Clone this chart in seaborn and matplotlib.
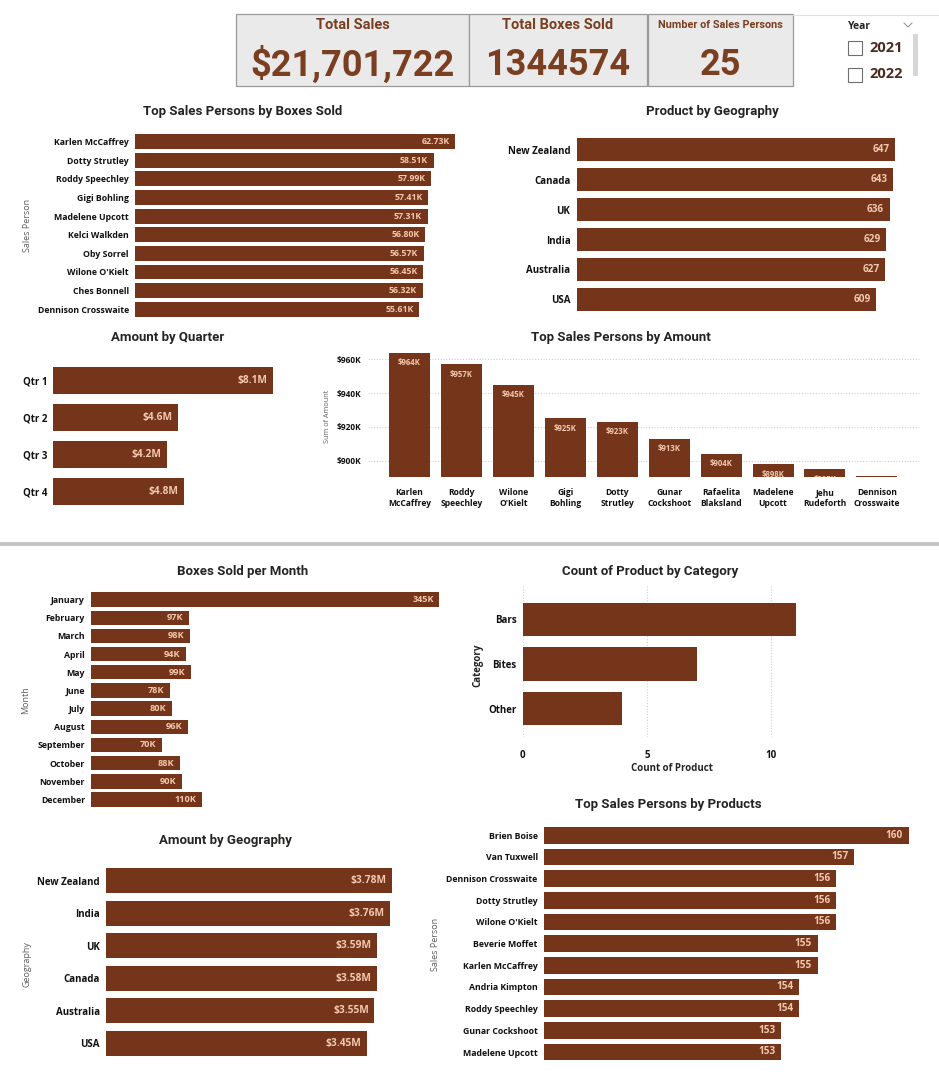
import matplotlib
matplotlib.use("Agg")
import matplotlib.pyplot as plt
import seaborn as sns
import pandas as pd
from matplotlib.patches import Rectangle
from matplotlib.lines import Line2D

# ---------------- data ----------------
kpi_titles = ["Total Sales", "Total Boxes Sold", "Number of Sales Persons"]
kpi_values = ["$21,701,722", "1344574", "25"]
slicer_title = "Year"
years = ["2021", "2022"]

boxes_people = ["Karlen McCaffrey", "Dotty Strutley", "Roddy Speechley", "Gigi Bohling",
                "Madelene Upcott", "Kelci Walkden", "Oby Sorrel", "Wilone O'Kielt",
                "Ches Bonnell", "Dennison Crosswaite"]
boxes_values = [62730, 58510, 57990, 57410, 57310, 56800, 56570, 56450, 56320, 55610]

geo_names = ["New Zealand", "Canada", "UK", "India", "Australia", "USA"]
geo_product_counts = [647, 643, 636, 629, 627, 609]

quarters = ["Qtr 1", "Qtr 2", "Qtr 3", "Qtr 4"]
quarter_amounts = [8.1e6, 4.6e6, 4.2e6, 4.8e6]

amount_people = ["Karlen\nMcCaffrey", "Roddy\nSpeechley", "Wilone\nO'Kielt", "Gigi\nBohling",
                 "Dotty\nStrutley", "Gunar\nCockshoot", "Rafaelita\nBlaksland",
                 "Madelene\nUpcott", "Jehu\nRudeforth", "Dennison\nCrosswaite"]
amount_values = [964e3, 957e3, 945e3, 925e3, 923e3, 913e3, 904e3, 898e3, 895e3, 891e3]
amount_ticks = [900e3, 920e3, 940e3, 960e3]

months = ["January", "February", "March", "April", "May", "June", "July", "August",
          "September", "October", "November", "December"]
month_boxes = [345e3, 97e3, 98e3, 94e3, 99e3, 78e3, 80e3, 96e3, 70e3, 88e3, 90e3, 110e3]

categories = ["Bars", "Bites", "Other"]
category_counts = [11, 7, 4]
count_ticks = [0, 5, 10]

product_people = ["Brien Boise", "Van Tuxwell", "Dennison Crosswaite", "Dotty Strutley",
                  "Wilone O'Kielt", "Beverie Moffet", "Karlen McCaffrey", "Andria Kimpton",
                  "Roddy Speechley", "Gunar Cockshoot", "Madelene Upcott"]
product_counts = [160, 157, 156, 156, 156, 155, 155, 154, 154, 153, 153]

geo_amount_names = ["New Zealand", "India", "UK", "Canada", "Australia", "USA"]
geo_amounts = [3.78e6, 3.76e6, 3.59e6, 3.58e6, 3.55e6, 3.45e6]

# ---------------- style ----------------
sns.set_style("white")
plt.rcParams["font.family"] = ["Open Sans", "DejaVu Sans"]
TITLE_FONT = ["Roboto", "DejaVu Sans"]
BAR = "#74351B"
LBL = "#F3C8AE"
KPI_COLOR = "#7A3E20"
DARK = "#252423"
GRAY = "#605E5C"

W, H = 939, 1080
fig = plt.figure(figsize=(W / 100, H / 100), dpi=100, facecolor="white")


def fx(x):
    return x / W


def fy(y):
    return 1 - y / H


def px_axes(left, top, right, bottom):
    return fig.add_axes([left / W, 1 - bottom / H, (right - left) / W, (bottom - top) / H])


def title(x, y, text, size=9.5):
    fig.text(fx(x), fy(y + 1.5), text, ha="center", va="center", fontsize=size,
             fontweight="bold", color=DARK, family=TITLE_FONT)


def side_label(x, y, text, size=6.5, color=GRAY, weight="normal"):
    fig.text(fx(x), fy(y), text, ha="center", va="center", rotation=90,
             fontsize=size, color=color, fontweight=weight)


def clean(ax):
    for s in ax.spines.values():
        s.set_visible(False)
    ax.tick_params(length=0)
    ax.set_xlabel("")
    ax.set_ylabel("")


def hbar(names, values, left, right, c0, cn, x0, ppu, width, fmt, lab_fs, val_fs):
    n = len(names)
    s = (cn - c0) / (n - 1)
    ax = px_axes(left, c0 - s / 2, right, cn + s / 2)
    df = pd.DataFrame({"name": names, "value": values})
    sns.barplot(data=df, y="name", x="value", ax=ax, color=BAR, width=width,
                saturation=1, orient="h", linewidth=0)
    ax.set_xlim(x0, x0 + (right - left) / ppu)
    ax.set_ylim(n - 0.5, -0.5)
    clean(ax)
    ax.set_xticks([])
    ax.tick_params(axis="y", pad=4.5)
    for t in ax.get_yticklabels():
        t.set_fontweight("bold")
        t.set_fontsize(lab_fs)
        t.set_color("#111111")
    for i, v in enumerate(values):
        ax.annotate(fmt(v), (v, i), xytext=(-4, 0), textcoords="offset points",
                    ha="right", va="center", color=LBL, fontsize=val_fs,
                    fontweight="bold")
    return ax


# ---------------- KPI cards ----------------
cards = [(236, 469), (469, 647), (648, 793)]
title_sizes = [10.5, 10.5, 7.8]
for (l, r), t, v, ts in zip(cards, kpi_titles, kpi_values, title_sizes):
    fig.add_artist(Rectangle((fx(l), fy(86)), (r - l) / W, 72 / H, transform=fig.transFigure,
                             facecolor="#EAEAEA", edgecolor="#9A9A9A", linewidth=0.9))
    cx = (l + r) / 2
    fig.text(fx(cx), fy(25), t, ha="center", va="center", fontsize=ts,
             fontweight="bold", color=KPI_COLOR, family=TITLE_FONT)
    fig.text(fx(cx), fy(65), v, ha="center", va="center", fontsize=26,
             fontweight="bold", color=KPI_COLOR, family=TITLE_FONT)

# slicer
fig.add_artist(Line2D([fx(793), fx(939)], [fy(15), fy(15)], transform=fig.transFigure,
                      color="#E2E2E2", linewidth=0.8))
fig.text(fx(848), fy(26.5), slicer_title, ha="left", va="center", fontsize=7.5,
         fontweight="bold", color=DARK)
fig.add_artist(Line2D([fx(904), fx(908), fx(912)], [fy(23), fy(27), fy(23)],
                      transform=fig.transFigure, color="#8A8A8A", linewidth=0.7))
for k, yr in enumerate(years):
    yc = 48 + k * 26.5
    fig.add_artist(Rectangle((fx(848), fy(yc + 7)), 14 / W, 14 / H, transform=fig.transFigure,
                             facecolor="white", edgecolor="#6E6E6E", linewidth=0.8))
    fig.text(fx(869), fy(yc), yr, ha="left", va="center", fontsize=10.5,
             fontweight="bold", color="#4A2B1F")
fig.add_artist(Rectangle((fx(913), fy(76)), 5 / W, 42 / H, transform=fig.transFigure,
                         facecolor="#D6D6D6", edgecolor="none"))

# ---------------- Top Sales Persons by Boxes Sold ----------------
title(243, 110, "Top Sales Persons by Boxes Sold")
side_label(27, 225, "Sales Person")
hbar(boxes_people, boxes_values, 135, 470, 141.7, 309.2, 0, 320.3 / 62730, 0.8,
     lambda v: f"{v / 1000:.2f}K", 6.3, 6.3)

# ---------------- Product by Geography ----------------
title(712, 110, "Product by Geography")
hbar(geo_names, geo_product_counts, 576.7, 910, 149.5, 299.5, 0, 318.3 / 647, 0.77,
     lambda v: f"{v:.0f}", 7, 7.2)

# ---------------- Amount by Quarter ----------------
title(168, 336, "Amount by Quarter")
hbar(quarters, quarter_amounts, 53.3, 300, 380.3, 491.3, 0, 220 / 8.1e6, 0.74,
     lambda v: f"${v / 1e6:.1f}M", 7, 7.3)

# ---------------- Top Sales Persons by Amount ----------------
title(621, 336, "Top Sales Persons by Amount")
side_label(327.7, 416.7, "Sum of Amount", size=5.2)
ppk = (460.7 - 359.3) / 60.0
top_px, bot_px = 350.0, 477.3
ax = px_axes(368, top_px, 920, bot_px)
df = pd.DataFrame({"name": amount_people, "value": amount_values})
sns.barplot(data=df, x="name", y="value", ax=ax, color=BAR, width=0.79, saturation=1,
            linewidth=0)
ax.set_ylim((900 - (bot_px - 460.7) / ppk) * 1e3, (960 + (359.3 - top_px) / ppk) * 1e3)
ax.set_xlim(-0.8, 9.83)
clean(ax)
ax.set_yticks(amount_ticks)
ax.set_yticklabels([f"${v / 1000:.0f}K" for v in amount_ticks], fontsize=6,
                   fontweight="bold", color="#111111")
ax.tick_params(axis="y", pad=5)
ax.tick_params(axis="x", pad=8)
for t in ax.get_xticklabels():
    t.set_fontsize(6.1)
    t.set_fontweight("bold")
    t.set_color("#111111")
    t.set_linespacing(1.25)
ax.yaxis.grid(True, linestyle=(0, (1, 1.5)), color="#D0D0D0", linewidth=0.8)
ax.set_axisbelow(True)
for i, v in enumerate(amount_values):
    ax.annotate(f"${v / 1000:.0f}K", (i, v), xytext=(0, -4), textcoords="offset points",
                ha="center", va="top", color=LBL, fontsize=5.6, fontweight="bold",
                annotation_clip=True, clip_on=True)

# ---------------- separator ----------------
fig.add_artist(Rectangle((0, fy(546)), 1, 4 / H, transform=fig.transFigure,
                         facecolor="#C4C4C4", edgecolor="none"))

# ---------------- Boxes Sold per Month ----------------
title(243, 570, "Boxes Sold per Month")
side_label(26, 700, "Month")
hbar(months, month_boxes, 91.3, 460, 599.5, 799.5, 0, 348 / 345e3, 0.79,
     lambda v: f"{v / 1000:.0f}K", 6.3, 6.6)

# ---------------- Count of Product by Category ----------------
title(650, 570, "Count of Product by Category")
ax = px_axes(522.7, 585, 880, 737)
df = pd.DataFrame({"name": categories, "value": category_counts})
sns.barplot(data=df, y="name", x="value", ax=ax, color=BAR, width=0.75, saturation=1,
            orient="h", linewidth=0)
ppu = 24.83
ax.set_xlim(0, (880 - 522.7) / ppu)
ax.set_ylim(2 + (737 - 708.7) / 44.7, -(619.3 - 585) / 44.7)
clean(ax)
ax.set_xticks(count_ticks)
ax.set_xticklabels([str(t) for t in count_ticks], fontsize=7, fontweight="bold",
                   color="#111111")
ax.tick_params(axis="x", pad=9)
ax.tick_params(axis="y", pad=4.5)
for t in ax.get_yticklabels():
    t.set_fontweight("bold")
    t.set_fontsize(7)
    t.set_color("#111111")
ax.xaxis.grid(True, linestyle=(0, (1, 1.5)), color="#D0D0D0", linewidth=0.8)
ax.set_axisbelow(True)
fig.text(fx(671.7), fy(768.3), "Count of Product", ha="center", va="center", fontsize=7,
         fontweight="bold", color=DARK)
side_label(478.3, 665, "Category", size=7, color=DARK, weight="bold")

# ---------------- Top Sales Persons by Products ----------------
title(668, 803, "Top Sales Persons by Products")
side_label(435, 944, "Sales Person")
hbar(product_people, product_counts, 544, 925, 835.3, 1052, 140, 364.7 / 20, 0.78,
     lambda v: f"{v:.0f}", 6.3, 7.2)

# ---------------- Amount by Geography ----------------
title(225, 839, "Amount by Geography")
side_label(27, 964, "Geography")
hbar(geo_amount_names, geo_amounts, 106, 410, 880.8, 1043.2, 0, 285.7 / 3.78e6, 0.77,
     lambda v: f"${v / 1e6:.2f}M", 7, 7.4)

fig.savefig("out.png", dpi=100, facecolor="white")
